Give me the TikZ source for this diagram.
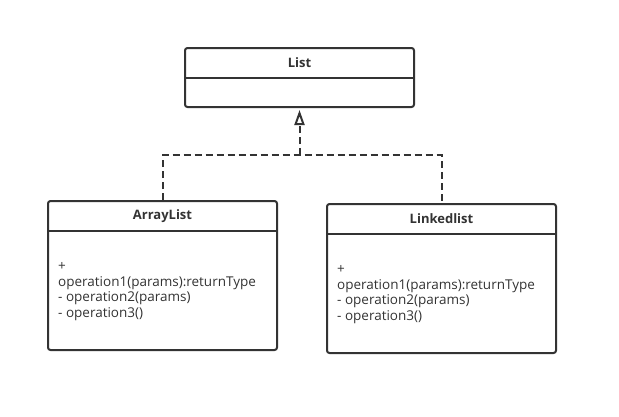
\documentclass[tikz,border=0pt]{standalone}
\usepackage{fontspec}
\setmainfont{Open Sans}
\usetikzlibrary{arrows.meta}
\definecolor{ink}{HTML}{333333}
\begin{document}
\begin{tikzpicture}[x=1pt,y=-1pt,
  classbox/.style={draw=ink,line width=2pt,rounded corners=2.5pt,minimum width=229pt,inner sep=0pt},
  divider/.style={draw=ink,line width=2pt},
  titletext/.style={text=ink,font=\fontsize{13}{15}\selectfont\bfseries,inner sep=0pt},
  bodytext/.style={text=ink,font=\fontsize{13.5}{15.5}\selectfont,align=left,anchor=west,inner sep=0pt},
  realize/.style={draw=ink,line width=2pt,dash pattern=on 7pt off 4pt},
  tri/.style={-{Triangle[open,length=15pt,width=10pt,line width=2pt]},shorten >=2pt}
]
\useasboundingbox (0,0) rectangle (619,416);
% List
\node[classbox,minimum height=59pt] (list) at (299.5,77.5) {};
\draw[divider] (185,77.5) -- (414,77.5);
\node[titletext] (listt) at (299.5,63) {List};
% ArrayList
\node[classbox,minimum height=149pt] (al) at (162.5,275.5) {};
\draw[divider] (48,231) -- (277,231);
\node[titletext] (alt) at (162.5,216) {ArrayList};
\node[bodytext] (alb) at (58,291.5) {+\\operation1(params):returnType\\- operation2(params)\\- operation3()};
% Linkedlist
\node[classbox,minimum height=149pt] (ll) at (441.5,278.5) {};
\draw[divider] (327,234) -- (556,234);
\node[titletext] (llt) at (441.5,219) {Linkedlist};
\node[bodytext] (llb) at (337,294.5) {+\\operation1(params):returnType\\- operation2(params)\\- operation3()};
% realization
\coordinate (j) at (299.5,155);
\draw[realize] (al.north) |- (j) -| (ll.north);
\draw[realize,tri] (j) -- (list.south);
\end{tikzpicture}
\end{document}
